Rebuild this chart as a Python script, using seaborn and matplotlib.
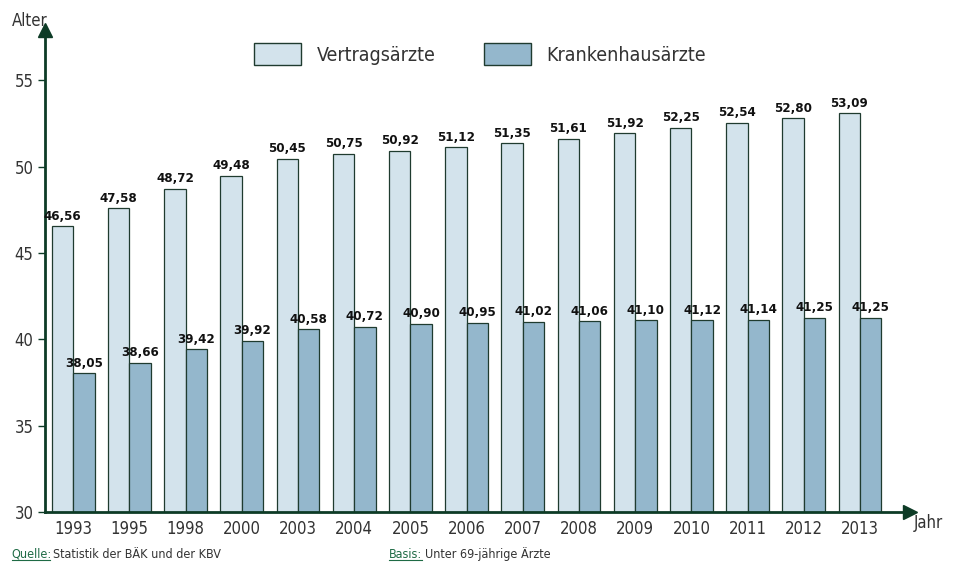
import matplotlib
matplotlib.use("Agg")
import matplotlib.pyplot as plt
import seaborn as sns
import pandas as pd
from matplotlib.patches import Patch

years = ["1993","1995","1998","2000","2003","2004","2005","2006","2007","2008","2009","2010","2011","2012","2013"]
vertrag = [46.56,47.58,48.72,49.48,50.45,50.75,50.92,51.12,51.35,51.61,51.92,52.25,52.54,52.80,53.09]
kranken = [38.05,38.66,39.42,39.92,40.58,40.72,40.90,40.95,41.02,41.06,41.10,41.12,41.14,41.25,41.25]
series = ["Vertragsärzte", "Krankenhausärzte"]
yticks = [30,35,40,45,50,55]

plt.rcParams["font.family"] = ["DejaVu Sans"]
plt.rcParams["font.stretch"] = "condensed"
dark = "#0d3b26"
c_light, c_dark = "#d3e3ec", "#94b7cc"

df = pd.DataFrame({"Jahr": years*2, "Alter": vertrag+kranken,
                   "Serie": [series[0]]*len(years)+[series[1]]*len(years)})

fig = plt.figure(figsize=(9.6,5.69), dpi=100)
ax = fig.add_axes([0.047,0.1,0.901,0.847])
sns.barplot(data=df, x="Jahr", y="Alter", hue="Serie", palette=[c_light,c_dark], saturation=1,
            width=0.76, gap=0, edgecolor="#1f3b2f", linewidth=0.9, ax=ax, legend=False)
ax.set_ylim(30,57.9)
ax.set_xlim(-0.5,14.89)
for s in ["top","right"]:
    ax.spines[s].set_visible(False)
for s in ["left","bottom"]:
    ax.spines[s].set_color(dark); ax.spines[s].set_linewidth(2)
ax.set_yticks(yticks)
ax.tick_params(axis="y", colors=dark, labelcolor="#333333", labelsize=12, length=5, width=1)
ax.tick_params(axis="x", length=0, labelsize=12, labelcolor="#333333", pad=6)
ax.set_xlabel(""); ax.set_ylabel("")
ax.plot(1, 0, ">", color=dark, markersize=10, transform=ax.transAxes, clip_on=False)
ax.plot(0, 1, "^", color=dark, markersize=10, transform=ax.transAxes, clip_on=False)
fig.text(0.012, 0.955, "Alter", fontsize=12, color="#333333")
fig.text(0.952, 0.072, "Jahr", fontsize=12, color="#333333")

for cont in ax.containers:
    for bar in cont:
        h = bar.get_height()
        ax.text(bar.get_x()+bar.get_width()/2, h+0.2, f"{h:.2f}".replace(".",","),
                ha="center", va="bottom", fontsize=9.5, fontweight="bold", color="#111111")

handles = [Patch(facecolor=c_light, edgecolor="#1f3b2f", label=series[0]),
           Patch(facecolor=c_dark, edgecolor="#1f3b2f", label=series[1])]
fig.legend(handles=handles, loc="center", bbox_to_anchor=(0.5,0.905), ncol=2, frameon=False,
           fontsize=14, handlelength=2.4, handleheight=1.3, columnspacing=2.5, labelcolor="#333333")

fig.text(0.012, 0.02, "Quelle:", fontsize=9, color="#1f6b45")
fig.text(0.055, 0.02, "Statistik der BÄK und der KBV", fontsize=9, color="#333333")
fig.text(0.405, 0.02, "Basis:", fontsize=9, color="#1f6b45")
fig.text(0.443, 0.02, "Unter 69-jährige Ärzte", fontsize=9, color="#333333")
fig.add_artist(plt.Line2D([0.012,0.052],[0.015,0.015], color="#1f6b45", lw=0.8))
fig.add_artist(plt.Line2D([0.405,0.44],[0.015,0.015], color="#1f6b45", lw=0.8))
fig.savefig("out.png", dpi=100, facecolor="white")
